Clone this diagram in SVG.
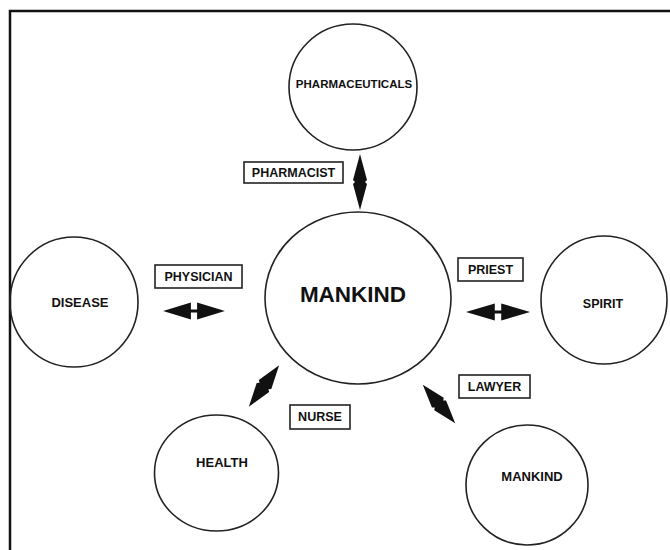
<svg xmlns="http://www.w3.org/2000/svg" xmlns:xlink="http://www.w3.org/1999/xlink" width="670" height="550" viewBox="0 0 670 550">
<style>
.n{fill:none;stroke:#222;stroke-width:1.6}
.t{font-family:"Liberation Sans",Arial,sans-serif;font-weight:bold;fill:#111;text-anchor:middle}
.lb{fill:#fff;stroke:#222;stroke-width:1.6}
.a{fill:#111;stroke:none}
</style>
<defs>
<path id="dbl" d="M-30,0 L-3,-8.5 L-3,-1.5 L3,-1.5 L3,-8.5 L30,0 L3,8.5 L3,1.5 L-3,1.5 L-3,8.5 Z"/>
<path id="dia" d="M-28,0 L-2,-7 L0,-5 L2,-7 L28,0 L2,7 L0,5 L-2,7 Z"/>
</defs>
<rect width="670" height="550" fill="#fff"/>
<path d="M10,550 V11 H670" fill="none" stroke="#111" stroke-width="2.5"/>
<g id="pharmaceuticals"><ellipse class="n" cx="353" cy="87" rx="64" ry="63"/><text class="t" x="354" y="88" font-size="11.5">PHARMACEUTICALS</text></g>
<g id="mankind-center"><ellipse class="n" cx="358" cy="298" rx="93" ry="86"/><text class="t" x="353" y="302" font-size="22.5">MANKIND</text></g>
<g id="disease"><ellipse class="n" cx="74" cy="302" rx="64" ry="65"/><text class="t" x="80" y="307" font-size="13">DISEASE</text></g>
<g id="spirit"><ellipse class="n" cx="604" cy="300" rx="63" ry="64"/><text class="t" x="603" y="308" font-size="12.5">SPIRIT</text></g>
<g id="health"><ellipse class="n" cx="216.5" cy="473" rx="62" ry="58"/><text class="t" x="222" y="467" font-size="13">HEALTH</text></g>
<g id="mankind-lower"><ellipse class="n" cx="527" cy="485" rx="61" ry="60"/><text class="t" x="532" y="481" font-size="13">MANKIND</text></g>
<g id="label-pharmacist"><rect class="lb" x="244" y="162" width="99" height="21"/><text class="t" x="293.5" y="177" font-size="12.5">PHARMACIST</text></g>
<g id="label-physician"><rect class="lb" x="155" y="265" width="87" height="23"/><text class="t" x="198.5" y="281" font-size="12.5">PHYSICIAN</text></g>
<g id="label-priest"><rect class="lb" x="458" y="258" width="65" height="23"/><text class="t" x="490.5" y="274" font-size="12.5">PRIEST</text></g>
<g id="label-nurse"><rect class="lb" x="290" y="405" width="60" height="24"/><text class="t" x="320" y="421" font-size="12.5">NURSE</text></g>
<g id="label-lawyer"><rect class="lb" x="459" y="375" width="71" height="23"/><text class="t" x="494.5" y="391" font-size="12.5">LAWYER</text></g>
<g id="connectors">
<use class="a" href="#dia" xlink:href="#dia" transform="translate(360,182) rotate(90)"/>
<use class="a" href="#dbl" xlink:href="#dbl" transform="translate(194,311) scale(1.03,1)"/>
<use class="a" href="#dbl" xlink:href="#dbl" transform="translate(498,312) scale(1.07,1)"/>
<use class="a" href="#dia" xlink:href="#dia" transform="translate(264,386) rotate(-54) scale(0.92,1.1)"/>
<use class="a" href="#dia" xlink:href="#dia" transform="translate(439,404) rotate(50) scale(0.9,1.1)"/>
</g>
</svg>
